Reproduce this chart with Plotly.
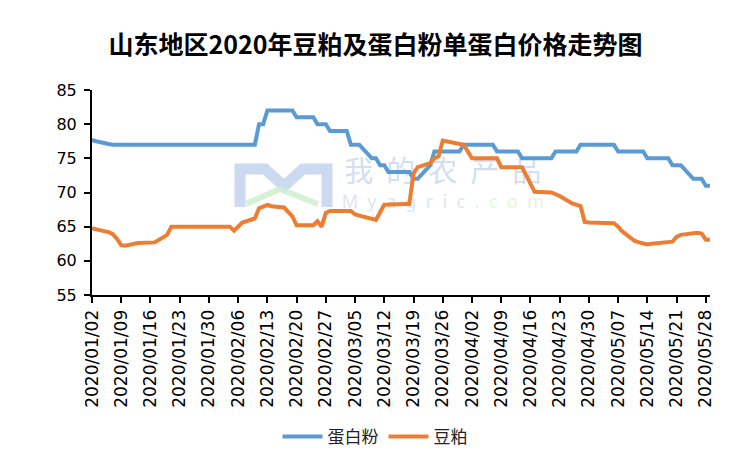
import plotly.graph_objects as go
import pandas as pd

# ---- data ----
protein_dates = ["2020-01-02","2020-01-03","2020-01-06","2020-01-07","2020-02-10","2020-02-11","2020-02-12",
                 "2020-02-13","2020-02-19","2020-02-20","2020-02-24","2020-02-25","2020-02-27","2020-02-28",
                 "2020-03-03","2020-03-04","2020-03-06","2020-03-09","2020-03-10","2020-03-11","2020-03-12",
                 "2020-03-13","2020-03-18","2020-03-19","2020-03-20","2020-03-23","2020-03-24","2020-03-30",
                 "2020-03-31","2020-04-07","2020-04-08","2020-04-13","2020-04-14","2020-04-21","2020-04-22",
                 "2020-04-27","2020-04-28","2020-05-06","2020-05-07","2020-05-13","2020-05-14","2020-05-19",
                 "2020-05-20","2020-05-22","2020-05-25","2020-05-27","2020-05-28","2020-05-29"]
protein_values = [77.7,77.5,77.1,77,77,80,80,
                  82,82,81,81,80,80,79,
                  79,77,77,75,75,74,74,
                  73,73,72,72,74,76,76,
                  77,77,76,76,75,75,76,
                  76,77,77,76,76,75,75,
                  74,74,72,72,71,71]

meal_dates = ["2020-01-02","2020-01-03","2020-01-06","2020-01-07","2020-01-08","2020-01-09","2020-01-10",
              "2020-01-13","2020-01-17","2020-01-20","2020-01-21","2020-02-04","2020-02-05","2020-02-06",
              "2020-02-07","2020-02-10","2020-02-11","2020-02-13","2020-02-14","2020-02-17","2020-02-18",
              "2020-02-19","2020-02-20","2020-02-24","2020-02-25","2020-02-26","2020-02-27","2020-02-28",
              "2020-03-04","2020-03-05","2020-03-10","2020-03-12","2020-03-17","2020-03-18","2020-03-19",
              "2020-03-20","2020-03-23","2020-03-24","2020-03-25","2020-03-26","2020-03-31","2020-04-01",
              "2020-04-02","2020-04-08","2020-04-09","2020-04-14","2020-04-15","2020-04-16","2020-04-17",
              "2020-04-21","2020-04-23","2020-04-26","2020-04-28","2020-04-29","2020-04-30","2020-05-06",
              "2020-05-07","2020-05-08","2020-05-11","2020-05-12","2020-05-14","2020-05-15","2020-05-19",
              "2020-05-20","2020-05-21","2020-05-22","2020-05-26","2020-05-27","2020-05-28","2020-05-29"]
meal_values = [64.8,64.6,64.2,63.9,63.2,62.3,62.2,
               62.6,62.7,63.8,65.0,65.0,64.4,65.1,
               65.6,66.2,67.7,68.2,68.0,67.8,67.2,
               66.5,65.2,65.2,65.8,65.0,67.0,67.3,
               67.3,66.8,66.0,68.2,68.3,68.3,72.8,
               73.7,74.3,75.0,75.3,77.6,77.0,76.0,
               75.0,75.0,73.7,73.7,72.5,71.0,70.1,
               70.0,69.5,68.4,68.0,65.7,65.6,65.5,
               65.0,64.3,62.9,62.7,62.4,62.5,62.7,
               62.8,63.5,63.8,64.1,64.0,63.1,63.1]

series_names = ["蛋白粉", "豆粕"]
title_text = "山东地区2020年豆粕及蛋白粉单蛋白价格走势图"
y_ticks = [55, 60, 65, 70, 75, 80, 85]
x_start, x_end = "2020-01-02", "2020-05-29"

# watermark texts
wm_cn = "\u00a0\u00a0".join("我的农产品")
wm_en_a = "\u00a0\u00a0".join("Myagric")
wm_en_b = "\u00a0\u00a0".join(".com")

BLUE = "#5B9BD5"
ORANGE = "#ED7D31"

# plot area in pixels (for decoration placement)
W, H = 751, 457
L, R, T, B = 92, 41, 90, 162
PW, PH = W - L - R, H - T - B

def px(xp):
    return (xp - L) / PW

def py(yp):
    return (H - B - yp) / PH

fig = go.Figure()

# watermark text (drawn first so the lines sit above it)
fig.add_trace(go.Scatter(
    x=["2020-03-26"], y=[72.6], mode="text", text=[wm_cn],
    textfont=dict(family="Noto Sans CJK SC", size=29, color="rgba(180,200,234,0.6)"),
    showlegend=False, hoverinfo="skip"))
fig.add_trace(go.Scatter(
    x=["2020-03-26"], y=[68.4], mode="text",
    text=[f"<span style='color:rgba(180,200,234,0.7)'>{wm_en_a}</span>"
          f"<span style='color:rgba(195,235,195,0.7)'>\u00a0\u00a0{wm_en_b}</span>"],
    textfont=dict(family="Noto Sans", size=18, color="rgba(180,200,234,0.7)"),
    showlegend=False, hoverinfo="skip"))

fig.add_trace(go.Scatter(x=protein_dates, y=protein_values, mode="lines", name=series_names[0],
                         line=dict(color=BLUE, width=4)))
fig.add_trace(go.Scatter(x=meal_dates, y=meal_values, mode="lines", name=series_names[1],
                         line=dict(color=ORANGE, width=4)))

# watermark logo (decorative)
def pth(points):
    return "M " + " L ".join(f"{px(a):.4f},{py(b):.4f}" for a, b in points)

fig.add_shape(type="path", xref="paper", yref="paper", layer="below",
              path=pth([(240, 207), (240, 169), (265, 169), (284, 186), (303, 169), (327, 169), (327, 207)]),
              line=dict(color="rgba(190,208,238,0.8)", width=11))
fig.add_shape(type="path", xref="paper", yref="paper", layer="below",
              path=pth([(246, 204), (280, 189), (318, 204)]),
              line=dict(color="rgba(205,238,205,0.8)", width=6))

tickvals = pd.date_range(x_start, "2020-05-28", freq="7D")

fig.update_layout(
    width=W, height=H,
    margin=dict(l=L, r=R, t=T, b=B, autoexpand=False),
    paper_bgcolor="white", plot_bgcolor="white",
    title=dict(text=title_text, x=0.5, xref="container", xanchor="center",
               y=1 - 45 / H, yref="container", yanchor="middle",
               font=dict(family="Noto Sans CJK SC", size=25, color="black", weight="bold")),
    showlegend=True,
    legend=dict(orientation="h", x=px(375), xanchor="center", y=py(437), yanchor="middle",
                font=dict(family="Noto Sans CJK SC", size=17, color="#222"),
                itemwidth=40, tracegroupgap=0, bgcolor="rgba(0,0,0,0)"),
    xaxis=dict(type="date", range=[x_start, x_end], tickvals=tickvals, tickformat="%Y/%m/%d",
               tickangle=-90, showgrid=False, zeroline=False, automargin=False,
               showline=True, linecolor="black", linewidth=2,
               ticks="outside", ticklen=6, tickwidth=2, tickcolor="black",
               tickfont=dict(family="DejaVu Sans", size=17, color="black")),
    yaxis=dict(range=[55, 85], tickvals=y_ticks, showgrid=False, zeroline=False, automargin=False,
               showline=True, linecolor="black", linewidth=2,
               ticks="outside", ticklen=6, tickwidth=2, tickcolor="black",
               ticklabelstandoff=4,
               tickfont=dict(family="DejaVu Sans", size=16, color="black")),
)

fig.write_html("out.html")
